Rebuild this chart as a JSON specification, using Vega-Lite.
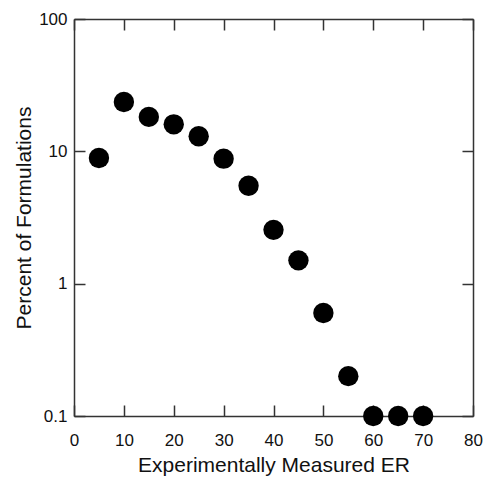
{
  "$schema": "https://vega.github.io/schema/vega-lite/v6.json",
  "autosize": "none",
  "width": 399,
  "height": 397,
  "padding": {"left": 74, "top": 19, "right": 11, "bottom": 62},
  "background": "white",
  "config": {
    "view": {"stroke": null},
    "font": "Liberation Sans",
    "axis": {
      "grid": false,
      "domainColor": "#333333",
      "domainWidth": 1.5,
      "tickColor": "#333333",
      "tickWidth": 1.5,
      "tickSize": -11,
      "labelFont": "Liberation Sans",
      "labelFontSize": 17,
      "labelColor": "#111111",
      "labelFlush": false,
      "titleFont": "Liberation Sans",
      "titleFontSize": 21,
      "titleFontWeight": "normal",
      "titleColor": "#111111"
    }
  },
  "data": {
    "values": [
      {"er": 5, "pct": 8.9},
      {"er": 10, "pct": 23.6},
      {"er": 15, "pct": 18.2},
      {"er": 20, "pct": 16.0},
      {"er": 25, "pct": 13.0},
      {"er": 30, "pct": 8.8},
      {"er": 35, "pct": 5.5},
      {"er": 40, "pct": 2.55},
      {"er": 45, "pct": 1.5},
      {"er": 50, "pct": 0.6},
      {"er": 55, "pct": 0.2},
      {"er": 60, "pct": 0.1},
      {"er": 65, "pct": 0.1},
      {"er": 70, "pct": 0.1}
    ]
  },
  "layer": [
    {
      "mark": {"type": "point", "filled": true, "color": "black", "opacity": 1, "size": 415, "clip": false},
      "encoding": {
        "x": {"field": "er", "type": "quantitative", "scale": {"domain": [0, 80], "nice": false},
          "axis": {"title": "Experimentally Measured ER", "values": [0,10,20,30,40,50,60,70,80], "labelPadding": 27, "titlePadding": 6}},
        "y": {"field": "pct", "type": "quantitative", "scale": {"type": "log", "domain": [0.1, 100], "nice": false},
          "axis": {"title": "Percent of Formulations", "values": [0.1, 1, 10, 100], "format": "~g", "labelPadding": 18, "titlePadding": 4}}
      }
    },
    {
      "mark": {"type": "point", "opacity": 0},
      "encoding": {
        "x": {"field": "er", "type": "quantitative", "scale": {"domain": [0, 80], "nice": false},
          "axis": {"orient": "top", "title": null, "labels": false, "values": [0,10,20,30,40,50,60,70,80]}},
        "y": {"field": "pct", "type": "quantitative", "scale": {"type": "log", "domain": [0.1, 100], "nice": false},
          "axis": {"orient": "right", "title": null, "labels": false, "values": [0.1, 1, 10, 100]}}
      }
    }
  ],
  "resolve": {"axis": {"x": "independent", "y": "independent"}}
}
